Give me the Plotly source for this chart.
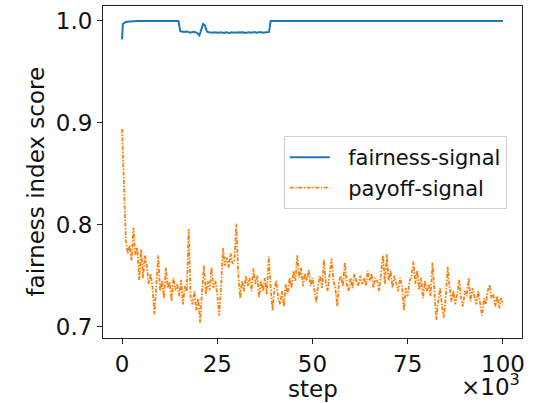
import numpy as np
import plotly.graph_objects as go

# ---- data (x in thousands of steps) ----
fair_x = [0, 0.2, 0.6, 1, 2, 4, 8, 12, 14.8,
          15.3, 15.8, 16.3, 16.8, 17.3, 17.8, 18.3, 18.8, 19.3, 19.8,
          20.3, 20.8, 21.3, 21.8, 22.3, 22.8, 23.3, 23.8, 24.3, 24.8,
          25.3, 25.8, 26.3, 26.8, 27.3, 27.8, 28.3, 28.8, 29.3, 29.8,
          30.3, 30.8, 31.3, 31.8, 32.3, 32.8, 33.3, 33.8, 34.3, 34.8,
          35.3, 35.8, 36.3, 36.8, 37.3, 37.8, 38.3, 38.6, 39.0, 45, 60, 80, 100]
fair_y = [0.982, 0.997, 0.998, 0.999, 0.9995, 1.0, 1.0, 1.0, 1.0,
          0.9900, 0.9895, 0.9893, 0.9897, 0.9895, 0.9885, 0.9890, 0.9893, 0.9890, 0.9880,
          0.9860, 0.9925, 0.9970, 0.9955, 0.9895, 0.9890, 0.9888, 0.9884, 0.9890, 0.9886,
          0.9884, 0.9889, 0.9886, 0.9883, 0.9889, 0.9885, 0.9883, 0.9890, 0.9884, 0.9887,
          0.9889, 0.9884, 0.9887, 0.9890, 0.9883, 0.9887, 0.9890, 0.9884, 0.9888, 0.9891,
          0.9884, 0.9887, 0.9891, 0.9885, 0.9888, 0.9892, 0.9888, 0.9893, 1.0, 1.0, 1.0, 1.0, 1.0]

payoff_x = np.arange(0, 100.5, 0.5)
payoff_y = [
    0.894, 0.845, 0.785, 0.772, 0.780, 0.765, 0.797, 0.770, 0.778, 0.746,
    0.776, 0.748, 0.770, 0.760, 0.742, 0.752, 0.738, 0.712, 0.740, 0.770,
    0.735, 0.745, 0.728, 0.758, 0.738, 0.744, 0.725, 0.748, 0.736, 0.742,
    0.730, 0.746, 0.722, 0.740, 0.735, 0.796, 0.728, 0.722, 0.735, 0.716,
    0.728, 0.704, 0.735, 0.760, 0.732, 0.745, 0.736, 0.758, 0.738, 0.745,
    0.732, 0.711, 0.740, 0.777, 0.760, 0.768, 0.758, 0.772, 0.762, 0.765,
    0.801, 0.752, 0.728, 0.745, 0.735, 0.750, 0.740, 0.748, 0.735, 0.757,
    0.742, 0.750, 0.729, 0.745, 0.735, 0.748, 0.732, 0.769, 0.740, 0.716,
    0.738, 0.745, 0.728, 0.722, 0.735, 0.720, 0.742, 0.732, 0.748, 0.738,
    0.755, 0.745, 0.770, 0.748, 0.758, 0.740, 0.752, 0.745, 0.756, 0.740,
    0.748, 0.735, 0.724, 0.742, 0.750, 0.738, 0.766, 0.742, 0.735, 0.752,
    0.767, 0.745, 0.738, 0.720, 0.745, 0.750, 0.740, 0.763, 0.742, 0.735,
    0.748, 0.738, 0.752, 0.745, 0.740, 0.750, 0.742, 0.748, 0.740, 0.755,
    0.745, 0.752, 0.738, 0.748, 0.745, 0.735, 0.752, 0.770, 0.742, 0.771,
    0.745, 0.755, 0.738, 0.750, 0.742, 0.735, 0.748, 0.740, 0.716, 0.738,
    0.730, 0.745, 0.750, 0.764, 0.742, 0.755, 0.736, 0.748, 0.728, 0.745,
    0.735, 0.742, 0.730, 0.763, 0.735, 0.707, 0.725, 0.738, 0.720, 0.709,
    0.730, 0.759, 0.738, 0.725, 0.735, 0.722, 0.732, 0.746, 0.728, 0.720,
    0.735, 0.730, 0.748, 0.725, 0.738, 0.730, 0.722, 0.735, 0.725, 0.711,
    0.728, 0.722, 0.735, 0.741, 0.728, 0.732, 0.720, 0.730, 0.718, 0.728,
    0.722,
]

x_tickvals = [0, 25, 50, 75, 100]
y_tickvals = [0.7, 0.8, 0.9, 1.0]
y_ticktext = ["0.7", "0.8", "0.9", "1.0"]

FONT = "DejaVu Sans"
NBSP = "\u00a0"

fig = go.Figure()
fig.add_trace(go.Scatter(x=fair_x, y=fair_y, mode="lines", name=NBSP * 2 + "fairness-signal",
                         line=dict(color="#1f77b4", width=2)))
fig.add_trace(go.Scatter(x=payoff_x, y=payoff_y, mode="lines", name=NBSP * 2 + "payoff-signal",
                         line=dict(color="#ff7f0e", width=1.8, dash="4px,1.5px,1.5px,1.5px")))

axis_common = dict(showgrid=False, zeroline=False, showline=True, mirror=True,
                   linecolor="#222222", linewidth=1, ticks="outside", ticklen=5,
                   tickwidth=1, tickcolor="#222222",
                   tickfont=dict(family=FONT, size=23, color="#111111"))

fig.update_layout(
    width=535, height=403,
    margin=dict(l=103, r=13, t=6, b=65),
    paper_bgcolor="white", plot_bgcolor="white",
    font=dict(family=FONT, color="#111111"),
    xaxis=dict(range=[-5, 105], tickvals=x_tickvals, **axis_common),
    yaxis=dict(range=[0.689, 1.0147], tickvals=y_tickvals, ticktext=y_ticktext, **axis_common),
    legend=dict(x=0.4316, y=0.608, xanchor="left", yanchor="top",
                bgcolor="rgba(255,255,255,0.8)", bordercolor="#d0d0d0", borderwidth=1,
                font=dict(family=FONT, size=21, color="#111111"),
                itemwidth=40, tracegroupgap=4),
    showlegend=True,
    annotations=[
        dict(text="step", xref="paper", yref="paper", x=0.5, y=-0.153,
             xanchor="center", yanchor="middle", showarrow=False,
             font=dict(family=FONT, size=23, color="#111111")),
        dict(text="fairness index score", xref="paper", yref="paper", x=-0.161, y=0.47,
             xanchor="center", yanchor="middle", showarrow=False, textangle=-90,
             font=dict(family=FONT, size=23, color="#111111")),
        dict(text="×10<sup>3</sup>", xref="paper", yref="paper", x=1.0, y=-0.1935,
             xanchor="right", yanchor="bottom", showarrow=False,
             font=dict(family=FONT, size=23, color="#111111")),
    ],
)

fig.write_html("out.html")
